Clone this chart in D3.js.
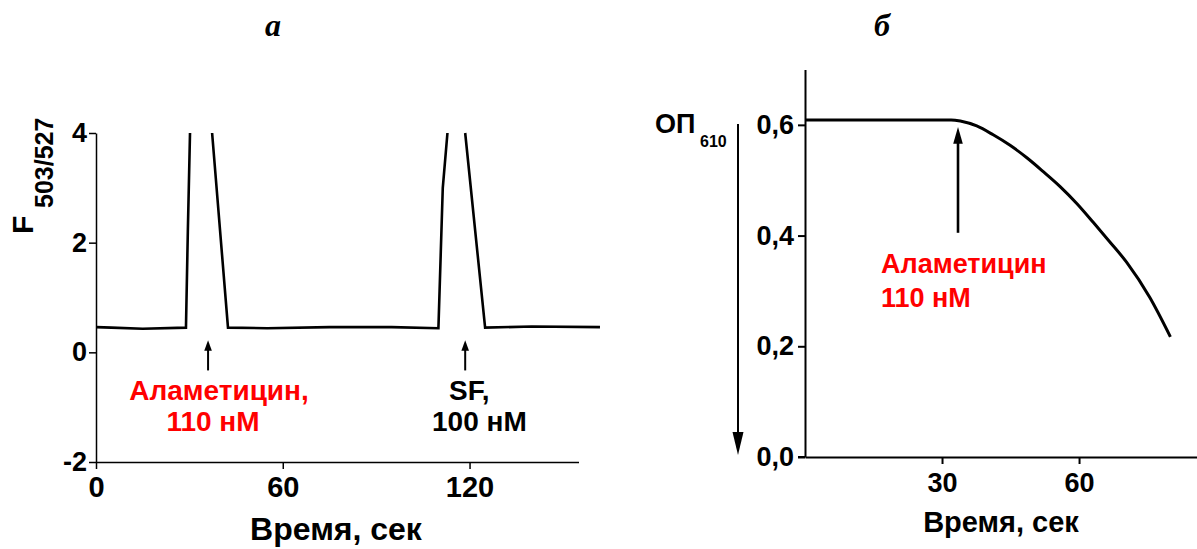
<!DOCTYPE html>
<html>
<head>
<meta charset="utf-8">
<script src="https://cdn.jsdelivr.net/npm/d3@7"></script>
<style>
  html, body { margin: 0; padding: 0; background: #fff; }
  svg { display: block; }
  text { font-family: "Liberation Sans", Arial, sans-serif; font-weight: bold; fill: #000; }
  .ttl { font-family: "Liberation Serif", "Times New Roman", serif; font-style: italic; font-weight: bold; }
</style>
</head>
<body>
<svg id="fig" width="1197" height="549"></svg>
<script>
// ---- panel а: fluorescence ratio F503/527 vs time ----
const fTime  = [0, 5, 15, 28.9, 29.5, 30.2, null, 37.3, 42.4, 55, 75, 95, 110.0, 111.4, 112.9, null, 118.6, 125.0, 140, 161.9];
const fValue = [0.46, 0.45, 0.43, 0.45, 2.2, 4, null, 4, 0.45, 0.44, 0.46, 0.46, 0.44, 3.0, 4, null, 4, 0.45, 0.47, 0.46];
const fXTicks = [0, 60, 120];
const fYTicks = [-2, 0, 2, 4];
const fArrowTime = [36.0, 118.6];
const fArrowLabels = [["Аламетицин,", "110 нМ"], ["SF,", "100 нМ"]];
const fArrowColors = ["#ff0000", "#000000"];

// ---- panel б: optical density OD610 vs time ----
const odTime  = [0, 32, 34, 37.6, 41.2, 44.9, 48.5, 52.1, 55.8, 59.5, 63.1, 66.7, 70.4, 75.5, 80];
const odValue = [0.609, 0.609, 0.607, 0.598, 0.582, 0.563, 0.541, 0.516, 0.489, 0.458, 0.424, 0.389, 0.352, 0.288, 0.217];
const odXTicks = [30, 60];
const odYTicks = [0, 0.2, 0.4, 0.6];
const odArrowTime = 33.5;
const odArrowLabel = ["Аламетицин", "110 нМ"];

const svg = d3.select("#fig");
const ruLocale = d3.formatLocale({ decimal: ",", thousands: " ", grouping: [3], currency: ["", ""] });

function styleAxis(g, width, fontSize) {
  g.selectAll("path.domain").attr("stroke", "#000").attr("stroke-width", width);
  g.selectAll(".tick line").attr("stroke", "#000").attr("stroke-width", width);
  g.selectAll(".tick text").style("font-size", fontSize + "px")
    .style("font-family", "'Liberation Sans', Arial, sans-serif").style("font-weight", "bold").attr("fill", "#000");
}

// ================= panel а =================
const xA = d3.scaleLinear().domain([0, 155]).range([96, 578.5]);
const yA = d3.scaleLinear().domain([-2, 4]).range([462, 133]);

const gxA = svg.append("g").attr("transform", `translate(0,${yA(-2)})`)
  .call(d3.axisBottom(xA).tickValues(fXTicks).tickSize(7).tickSizeOuter(0).tickPadding(5)
    .tickFormat(d => String(d)));
styleAxis(gxA, 1.5, 29);
gxA.selectAll(".tick text").attr("dy", "0.78em");

const gyA = svg.append("g").attr("transform", `translate(${xA(0)},0)`)
  .call(d3.axisLeft(yA).tickValues(fYTicks).tickSize(7).tickSizeOuter(0).tickPadding(2)
    .tickFormat(d => String(d)));
styleAxis(gyA, 1.5, 27);

const lineA = d3.line()
  .defined((d, i) => fTime[i] !== null)
  .x((d, i) => xA(fTime[i]))
  .y((d, i) => yA(fValue[i]));
svg.append("path")
  .attr("d", lineA(fTime))
  .attr("fill", "none").attr("stroke", "#000").attr("stroke-width", 2.6)
  .attr("stroke-linejoin", "miter");

// injection arrows with labels
fArrowTime.forEach((t, i) => {
  const x = xA(t);
  svg.append("line").attr("x1", x).attr("x2", x)
    .attr("y1", yA(-0.33)).attr("y2", yA(0.12))
    .attr("stroke", "#000").attr("stroke-width", 2);
  svg.append("path")
    .attr("d", `M${x},${yA(0.22)} L${x - 3.8},${yA(0.03)} L${x + 3.8},${yA(0.03)} Z`)
    .attr("fill", "#000");
});
svg.append("text").attr("x", 219).attr("y", 400)
  .attr("text-anchor", "middle").style("font-size", "28px").style("fill", fArrowColors[0])
  .text(fArrowLabels[0][0]);
svg.append("text").attr("x", 213).attr("y", 431)
  .attr("text-anchor", "middle").style("font-size", "28px").style("fill", fArrowColors[0])
  .text(fArrowLabels[0][1]);
svg.append("text").attr("x", 449).attr("y", 400)
  .attr("text-anchor", "start").style("font-size", "28px").style("fill", fArrowColors[1])
  .text(fArrowLabels[1][0]);
svg.append("text").attr("x", 432).attr("y", 431)
  .attr("text-anchor", "start").style("font-size", "28px").style("fill", fArrowColors[1])
  .text(fArrowLabels[1][1]);

// axis titles
svg.append("text").attr("x", 336).attr("y", 540).attr("text-anchor", "middle")
  .style("font-size", "32px").text("Время, сек");
svg.append("text").attr("transform", "translate(33,234) rotate(-90)")
  .style("font-size", "30px").text("F");
svg.append("text").attr("transform", "translate(53,208) rotate(-90)")
  .style("font-size", "25px").text("503/527");

svg.append("text").attr("class", "ttl").attr("x", 273).attr("y", 36)
  .attr("text-anchor", "middle").style("font-size", "32px").text("а");

// ================= panel б =================
const xB = d3.scaleLinear().domain([0, 86]).range([805, 1197.8]);
const yB = d3.scaleLinear().domain([0, 0.7]).range([457, 69.5]);

const gxB = svg.append("g").attr("transform", `translate(0,${yB(0)})`)
  .call(d3.axisBottom(xB).tickValues(odXTicks).tickSize(7).tickSizeOuter(0).tickPadding(6));
styleAxis(gxB, 2, 27);
gxB.selectAll(".tick text").attr("dy", "0.8em");

const gyB = svg.append("g").attr("transform", `translate(${xB(0)},0)`)
  .call(d3.axisLeft(yB).tickValues(odYTicks).tickSize(7).tickSizeOuter(0).tickPadding(4)
    .tickFormat(ruLocale.format(".1f")));
styleAxis(gyB, 2, 27);
// the bottom-left tick extends the x axis slightly to the left
svg.append("line").attr("x1", xB(0) - 7).attr("x2", xB(0)).attr("y1", yB(0)).attr("y2", yB(0))
  .attr("stroke", "#000").attr("stroke-width", 2);

const lineB = d3.line()
  .x((d, i) => xB(odTime[i]))
  .y((d, i) => yB(odValue[i]))
  .curve(d3.curveMonotoneX);
svg.append("path")
  .attr("d", lineB(odTime))
  .attr("fill", "none").attr("stroke", "#000").attr("stroke-width", 3);

// injection arrow
{
  const x = xB(odArrowTime);
  svg.append("line").attr("x1", x).attr("x2", x)
    .attr("y1", yB(0.405)).attr("y2", yB(0.57))
    .attr("stroke", "#000").attr("stroke-width", 2.6);
  svg.append("path")
    .attr("d", `M${x},${yB(0.596)} L${x - 4.8},${yB(0.566)} L${x + 4.8},${yB(0.566)} Z`)
    .attr("fill", "#000");
  svg.append("text").attr("x", 881).attr("y", 273)
    .style("font-size", "27px").style("fill", "#ff0000").text(odArrowLabel[0]);
  svg.append("text").attr("x", 881).attr("y", 307)
    .style("font-size", "27px").style("fill", "#ff0000").text(odArrowLabel[1]);
}

// y title with downward arrow
svg.append("text").attr("x", 655).attr("y", 133).style("font-size", "27px").text("ОП");
svg.append("text").attr("x", 700).attr("y", 147).style("font-size", "16px").text("610");
svg.append("line").attr("x1", 738).attr("x2", 738).attr("y1", 124).attr("y2", 436)
  .attr("stroke", "#000").attr("stroke-width", 2);
svg.append("path").attr("d", "M738,455 L732.5,432 L743.5,432 Z").attr("fill", "#000");

svg.append("text").attr("x", 1001).attr("y", 532).attr("text-anchor", "middle")
  .style("font-size", "29px").text("Время, сек");

svg.append("text").attr("class", "ttl").attr("x", 882).attr("y", 36)
  .attr("text-anchor", "middle").style("font-size", "32px").text("б");
</script>
</body>
</html>
